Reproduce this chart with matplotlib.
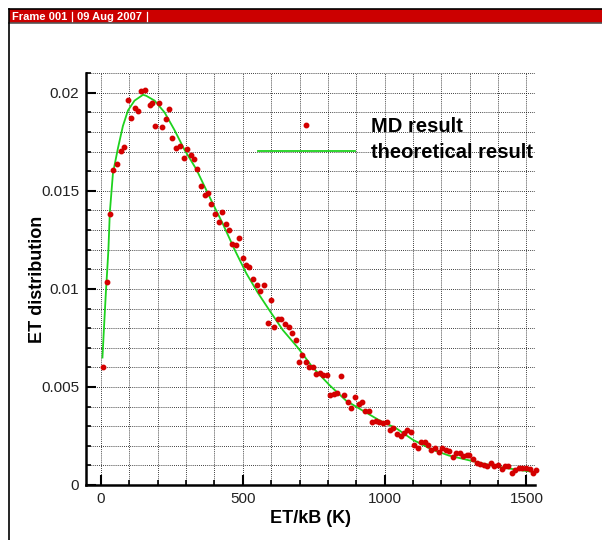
import matplotlib
matplotlib.use("Agg")
import matplotlib.pyplot as plt
from matplotlib.patches import Rectangle
from matplotlib.lines import Line2D
from matplotlib.ticker import MultipleLocator, FormatStrFormatter, FuncFormatter


# MD result (scatter)
md_x = [8, 20, 31, 43, 57, 69, 81, 96, 106, 118,
        130, 142, 156, 173, 180, 192, 203, 215, 229, 240,
        251, 266, 279, 291, 304, 316, 328, 339, 354, 366,
        378, 389, 401, 415, 427, 439, 451, 462, 476, 488,
        500, 512, 523, 537, 550, 562, 575, 588, 599, 611,
        625, 636, 649, 661, 673, 686, 698, 710, 724, 734,
        747, 759, 771, 783, 797, 808, 822, 833, 846, 858,
        870, 881, 894, 908, 920, 932, 944, 957, 969, 981,
        995, 1007, 1018, 1031, 1045, 1056, 1068, 1080, 1092, 1104,
        1117, 1129, 1141, 1153, 1165, 1177, 1191, 1202, 1215, 1228,
        1240, 1252, 1264, 1276, 1289, 1299, 1313, 1326, 1337, 1350,
        1362, 1374, 1386, 1398, 1412, 1424, 1436, 1449, 1461, 1473,
        1485, 1499, 1511, 1524, 1534]
md_y = [0.00602, 0.01037, 0.01384, 0.01607, 0.01635, 0.01705, 0.01723, 0.01963, 0.0187, 0.01921,
        0.01907, 0.02009, 0.02012, 0.01937, 0.01946, 0.01832, 0.01947, 0.01825, 0.01867, 0.01918,
        0.01768, 0.01719, 0.01728, 0.01668, 0.01714, 0.01682, 0.01663, 0.01612, 0.01525, 0.01477,
        0.01491, 0.01433, 0.01382, 0.01339, 0.01393, 0.01332, 0.013, 0.01228, 0.01225, 0.01258,
        0.0116, 0.01123, 0.01114, 0.01049, 0.01018, 0.00988, 0.01021, 0.00825, 0.00944, 0.00804,
        0.00847, 0.00846, 0.00821, 0.00804, 0.00774, 0.00739, 0.00625, 0.00663, 0.00628, 0.00602,
        0.006, 0.00567, 0.0057, 0.00561, 0.00561, 0.00458, 0.00465, 0.00467, 0.00556, 0.00458,
        0.00425, 0.00391, 0.00451, 0.00414, 0.00423, 0.00377, 0.00377, 0.00319, 0.00326, 0.00321,
        0.00318, 0.00321, 0.00282, 0.00289, 0.0026, 0.00251, 0.00263, 0.00279, 0.00272, 0.00204,
        0.00189, 0.00219, 0.00219, 0.00205, 0.00177, 0.00189, 0.0017, 0.00189, 0.00181, 0.00175,
        0.00142, 0.00163, 0.00161, 0.00147, 0.00153, 0.00154, 0.00132, 0.00111, 0.00105, 0.00104,
        0.00098, 0.00111, 0.00098, 0.00102, 0.00081, 0.00095, 0.00096, 0.00063, 0.00075, 0.00089,
        0.00086, 0.00086, 0.00082, 0.0006, 0.00074]

# theoretical result (line)
th_x = [5, 10, 17, 22, 26, 31, 42, 60, 77, 95,
        118, 148, 159, 189, 224, 259, 294, 336, 389, 430,
        471, 512, 553, 594, 641, 694, 746, 805, 864, 922,
        981, 1040, 1100, 1168, 1227, 1286, 1344, 1403, 1462, 1528]
th_y = [0.0065, 0.0079, 0.0098, 0.0110, 0.0120, 0.0139, 0.0159, 0.0172, 0.0183, 0.0191,
        0.0196, 0.0199, 0.01985, 0.0196, 0.0190, 0.0181, 0.0171, 0.0161, 0.0145, 0.0133,
        0.0120, 0.0108, 0.0098, 0.0089, 0.0079, 0.0070, 0.0060, 0.0051, 0.0043, 0.0038,
        0.0033, 0.0029, 0.0023, 0.0018, 0.0015, 0.0013, 0.0011, 0.00092, 0.00079, 0.00066]

labels = ["MD result", "theoretical result"]

W, H = 602, 540
RED = "#d40000"
GREEN = "#1ed21e"

plt.rcParams["font.family"] = ["Liberation Sans", "DejaVu Sans"]

fig = plt.figure(figsize=(W / 100, H / 100), dpi=100)
fig.patch.set_facecolor("white")

# tecplot-like frame header
fig.add_artist(Rectangle((9 / W, 1 - 23 / H), 1 - 9 / W, 14 / H,
                         transform=fig.transFigure, facecolor="#cc0000",
                         edgecolor="none"))
fig.add_artist(Line2D([9 / W, 1], [1 - 9 / H, 1 - 9 / H], transform=fig.transFigure,
                      color="black", lw=1.2))
fig.add_artist(Line2D([9 / W, 1], [1 - 23 / H, 1 - 23 / H], transform=fig.transFigure,
                      color="#555555", lw=1.2))
fig.add_artist(Line2D([9 / W, 9 / W], [0, 1 - 9 / H], transform=fig.transFigure,
                      color="black", lw=1.2))
head_font = dict(color="white", fontweight="bold", fontsize=8,
                 family=["Liberation Sans Narrow", "Liberation Sans"], va="center")
fig.text(12 / W, 1 - 16.5 / H, "Frame 001", **head_font)
fig.text(77 / W, 1 - 16.5 / H, "09 Aug 2007", **head_font)
for sx in (72, 147):
    fig.add_artist(Line2D([sx / W, sx / W], [1 - 12 / H, 1 - 21 / H],
                          transform=fig.transFigure, color="white", lw=0.9))

ax = fig.add_axes([86 / W, 1 - 485 / H, (535 - 86) / W, (485 - 73) / H])

ax.plot(th_x, th_y, color=GREEN, lw=1.3, zorder=3, label=labels[1])
ax.plot(md_x, md_y, ls="none", marker="o", ms=3.2, color=RED, mec=RED,
        zorder=4, clip_on=False, label=labels[0])

ax.set_xlim(-53, 1530)
ax.set_ylim(0, 0.02101)

ax.xaxis.set_major_locator(MultipleLocator(500))
ax.xaxis.set_minor_locator(MultipleLocator(100))
ax.yaxis.set_major_locator(MultipleLocator(0.005))
ax.yaxis.set_minor_locator(MultipleLocator(0.001))
ax.yaxis.set_major_formatter(FuncFormatter(lambda v, p: "%g" % round(v, 4)))
ax.xaxis.set_major_formatter(FormatStrFormatter("%d"))

ax.grid(True, which="both", color="black", ls=(0, (1, 1.5)), lw=0.6, zorder=0)
ax.set_axisbelow(True)

for side in ("top", "right"):
    ax.spines[side].set_visible(False)
for side in ("left", "bottom"):
    ax.spines[side].set_linewidth(1.8)

ax.tick_params(which="major", direction="in", length=7.5, width=1.5,
               labelsize=11, labelcolor="#222222", pad=5)
ax.tick_params(which="minor", direction="in", length=3.5, width=1.2)

ax.set_xlabel("ET/kB (K)", fontsize=13, fontweight="bold", labelpad=3)
ax.set_ylabel("ET distribution", fontsize=13, fontweight="bold")
ax.yaxis.set_label_coords(-0.089, 0.5)

handles, hl = ax.get_legend_handles_labels()
order = [hl.index(l) for l in labels]
leg = ax.legend([handles[i] for i in order], [hl[i] for i in order],
                loc="upper left", bbox_to_anchor=(258 / W, 1 - 117 / H),
                bbox_transform=fig.transFigure, frameon=False,
                prop=dict(weight="bold", size=14.5), handlelength=4.8,
                handletextpad=0.8, labelspacing=0.36, borderpad=0,
                borderaxespad=0, numpoints=1)

fig.savefig("out.png", dpi=100)
